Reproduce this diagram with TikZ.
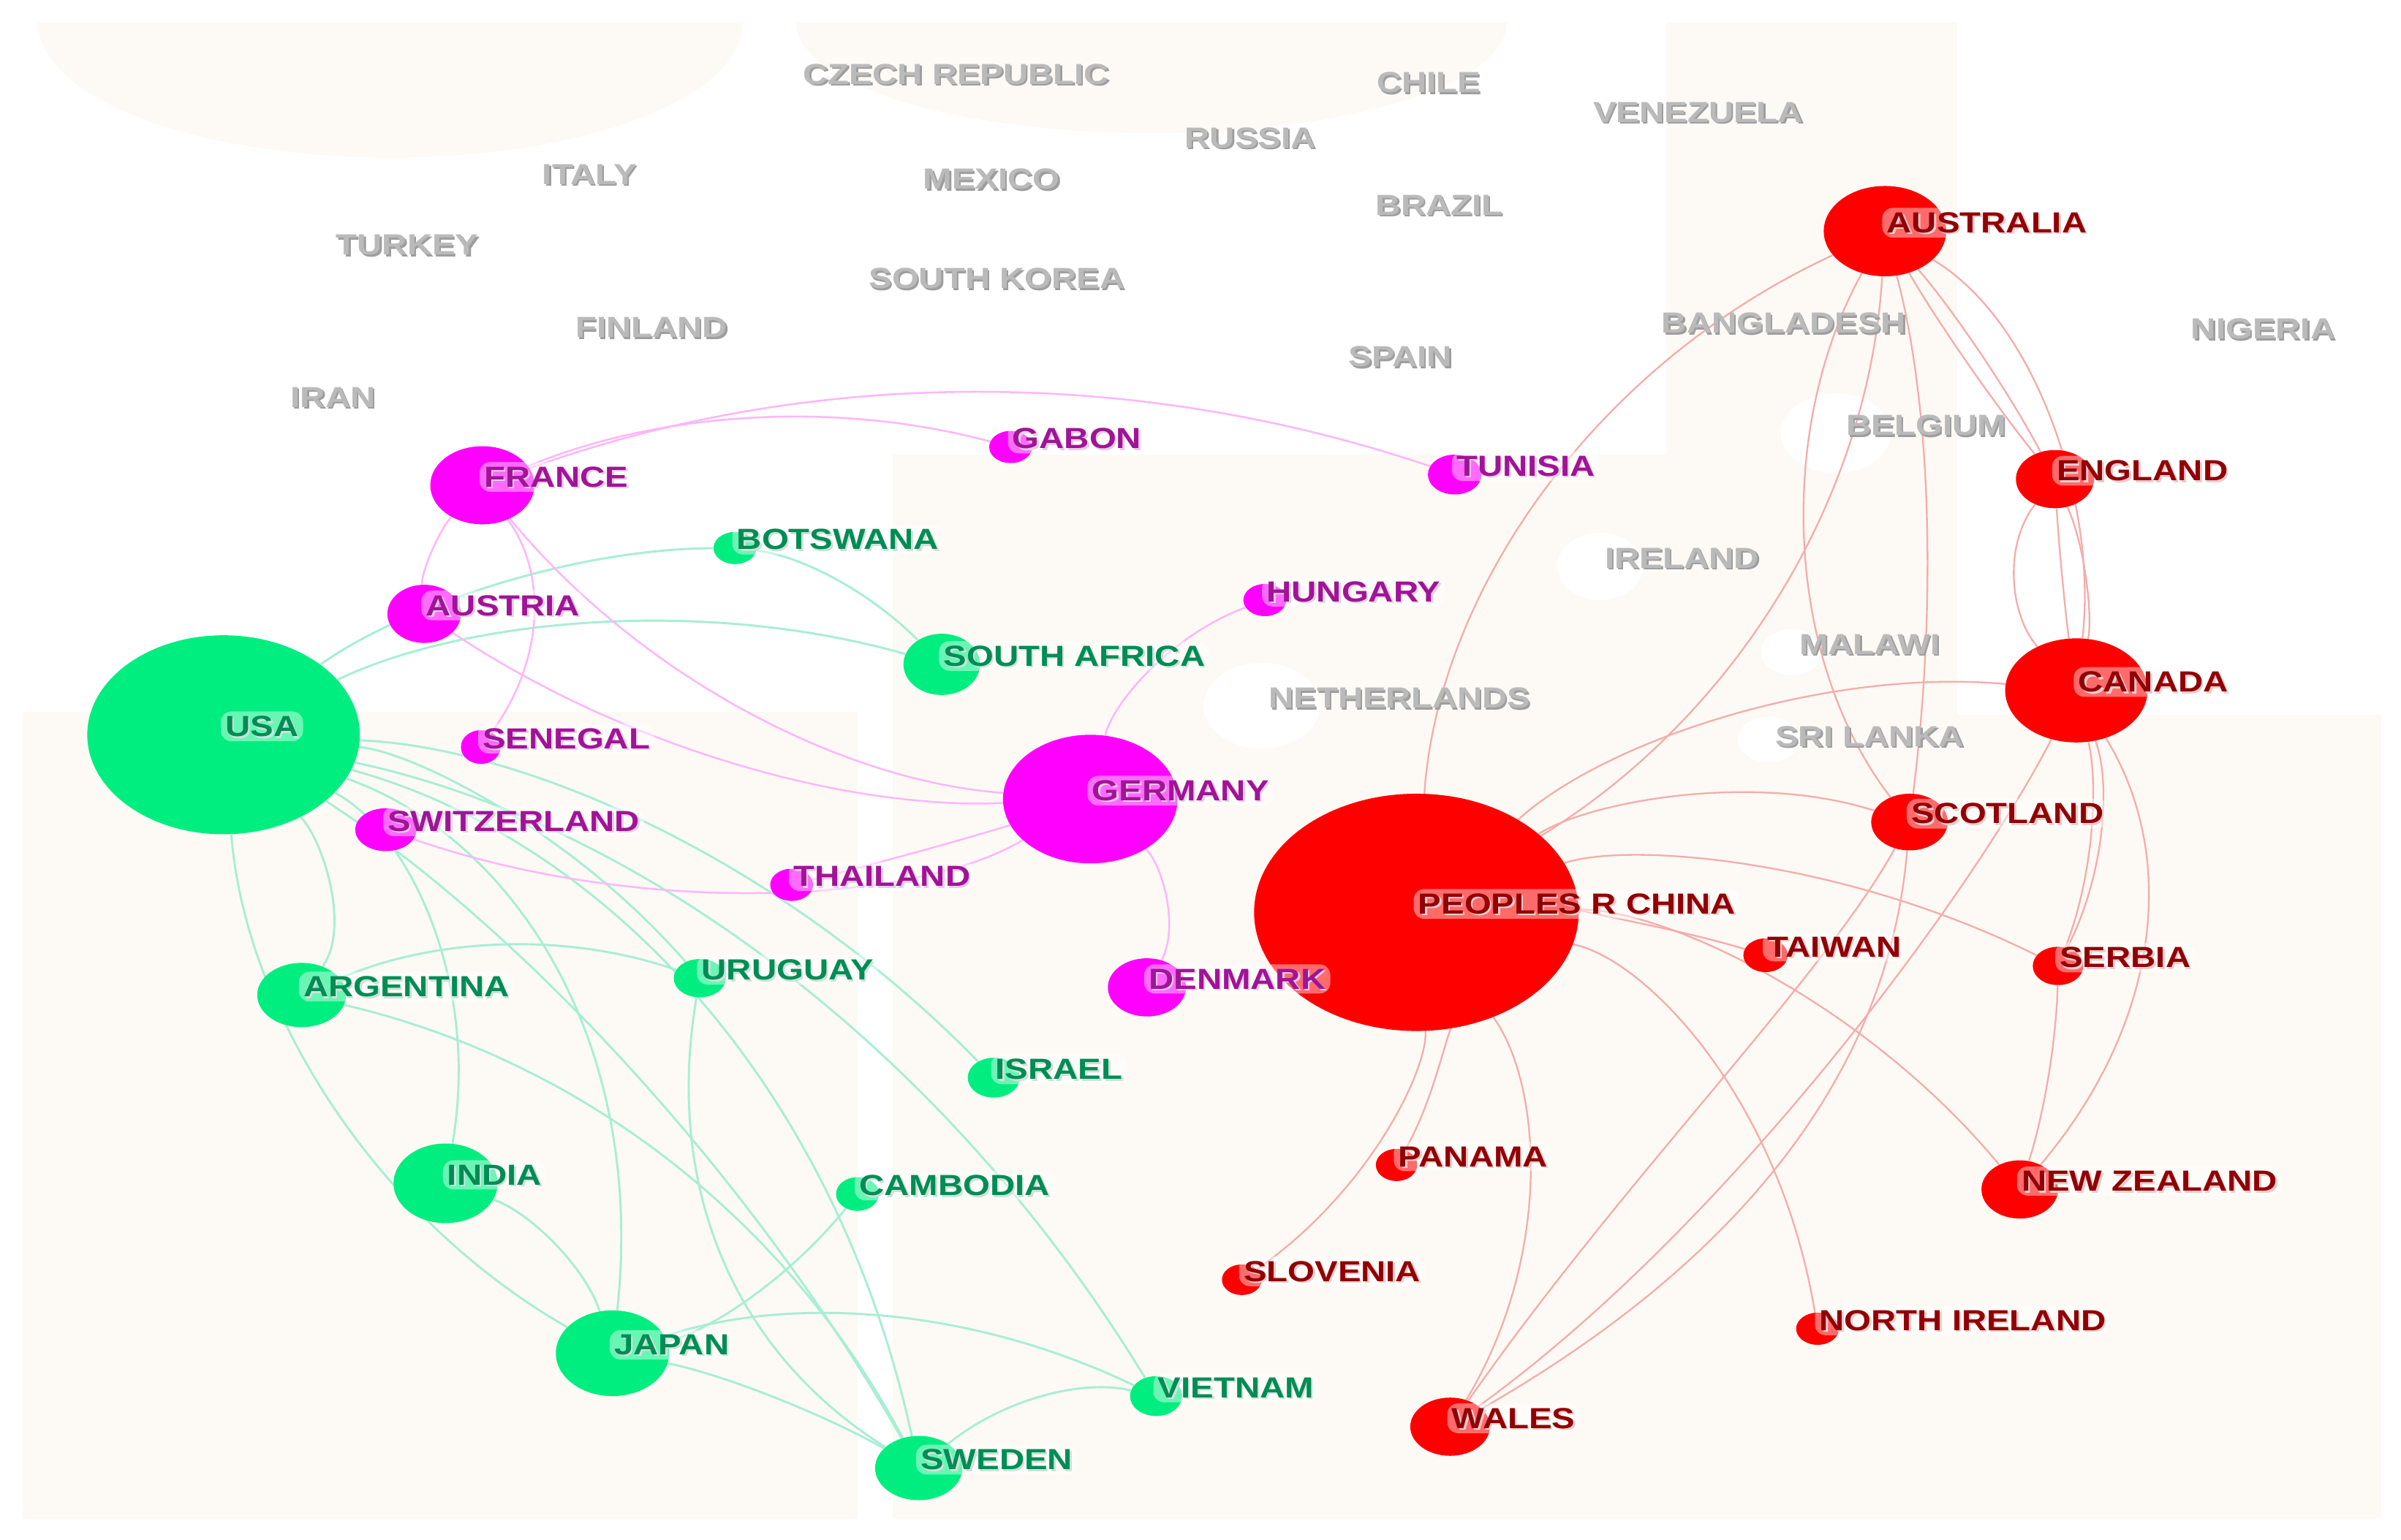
\documentclass[tikz,border=0pt]{standalone}
\usepackage{fontspec}
\newfontfamily\lblfont{Liberation Sans}[FakeStretch=1.19]
\usetikzlibrary{shapes.geometric,calc}
\definecolor{gnode}{RGB}{0,238,128}
\definecolor{mnode}{RGB}{255,0,255}
\definecolor{rnode}{RGB}{255,0,0}
\definecolor{gtxt}{RGB}{0,140,85}
\definecolor{mtxt}{RGB}{160,20,150}
\definecolor{rtxt}{RGB}{145,0,5}
\definecolor{gshd}{RGB}{170,205,190}
\definecolor{mshd}{RGB}{215,170,215}
\definecolor{rshd}{RGB}{220,170,170}
\definecolor{graytxt}{RGB}{186,186,186}
\definecolor{grayshd}{RGB}{158,158,158}
\definecolor{gline}{RGB}{168,238,212}
\definecolor{mline}{RGB}{255,182,250}
\definecolor{rline}{RGB}{245,172,172}
\definecolor{beige}{RGB}{253,250,245}
\pgfdeclarelayer{bg}\pgfdeclarelayer{edges}\pgfdeclarelayer{labels}
\pgfsetlayers{bg,edges,main,labels}
\tikzset{
 country/.style={ellipse, inner sep=0pt, draw=none},
 gn/.style={country, fill=gnode},
 mn/.style={country, fill=mnode},
 rn/.style={country, fill=rnode},
 lbltext/.style={font=\lblfont\bfseries\fontsize{19pt}{19pt}\selectfont, inner sep=0pt},
 gedge/.style={draw=gline, line width=1.4pt},
 medge/.style={draw=mline, line width=1.2pt},
 redge/.style={draw=rline, line width=1.1pt},
}
\newcommand{\qedge}[4]{\draw[#1] (#2) .. controls ($(#2.center)!0.6667!(#4)$) and ($(#3.center)!0.6667!(#4)$) .. (#3);}
\newcommand{\ctylabel}[4]{%
 \node[lbltext, text=#3, anchor=west, xshift=2.2pt, yshift=4.3pt] (#1-sh) at (#1.center) {#4};
 \node[lbltext, text=#2, anchor=west, inner xsep=3pt, inner ysep=3pt, xshift=-2pt, yshift=5.5pt, fill=white, fill opacity=0.42, text opacity=1, rounded corners=7pt] (#1-lb) at (#1.center) {#4};}
\newcommand{\graylbl}[4]{%
 \node[lbltext, text=grayshd] (#1-sh) at (#2+1.1,#3+1.2) {#4};
 \node[lbltext, text=graytxt] (#1) at (#2,#3) {#4};}
\begin{document}
\begin{tikzpicture}[x=1pt,y=-1pt]
\begin{pgfonlayer}{bg}
\fill[white] (0,0) rectangle (1568,1006);
\begin{scope}
\clip (0,15) rectangle (1568,1006);
\fill[beige] (255,15) ellipse [x radius=230, y radius=88];
\fill[beige] (752,15) ellipse [x radius=232, y radius=72];
\end{scope}
\fill[beige] (15,465) rectangle (560,992);
\fill[beige] (583,297) rectangle (1088,992);
\fill[beige] (1088,15) rectangle (1278,992);
\fill[beige] (1278,467) rectangle (1555,992);
\fill[white] (1199,283) ellipse [x radius=36, y radius=26];
\fill[white] (1045,370) ellipse [x radius=28, y radius=22];
\fill[white] (824,461) ellipse [x radius=38, y radius=28];
\fill[white] (1170,426) ellipse [x radius=20, y radius=15];
\fill[white] (1155,483) ellipse [x radius=20, y radius=15];
\end{pgfonlayer}
\path[use as bounding box] (0,0) rectangle (1568,1006);

% green nodes
\node[gn, minimum width=178pt, minimum height=130pt] (usa) at (146,480) {};
\node[gn, minimum width=28pt, minimum height=21pt] (botswana) at (480,358) {};
\node[gn, minimum width=50pt, minimum height=40pt] (safrica) at (615,434) {};
\node[gn, minimum width=58pt, minimum height=42pt] (argentina) at (197,650) {};
\node[gn, minimum width=34pt, minimum height=25pt] (uruguay) at (457,639) {};
\node[gn, minimum width=34pt, minimum height=26pt] (israel) at (649,704) {};
\node[gn, minimum width=68pt, minimum height=52pt] (india) at (291,773) {};
\node[gn, minimum width=28pt, minimum height=22pt] (cambodia) at (560,780) {};
\node[gn, minimum width=74pt, minimum height=56pt] (japan) at (400,884) {};
\node[gn, minimum width=34pt, minimum height=26pt] (vietnam) at (755,912) {};
\node[gn, minimum width=57pt, minimum height=42pt] (sweden) at (600,959) {};
% magenta nodes
\node[mn, minimum width=68pt, minimum height=51pt] (france) at (315,317) {};
\node[mn, minimum width=28pt, minimum height=21pt] (gabon) at (660,292) {};
\node[mn, minimum width=35pt, minimum height=26pt] (tunisia) at (950,310) {};
\node[mn, minimum width=48pt, minimum height=38pt] (austria) at (277,401) {};
\node[mn, minimum width=28pt, minimum height=21pt] (hungary) at (826,392) {};
\node[mn, minimum width=26pt, minimum height=22pt] (senegal) at (314,488) {};
\node[mn, minimum width=114pt, minimum height=84pt] (germany) at (712,522) {};
\node[mn, minimum width=40pt, minimum height=28pt] (switzerland) at (252,542) {};
\node[mn, minimum width=28pt, minimum height=21pt] (thailand) at (517,578) {};
\node[mn, minimum width=51pt, minimum height=38pt] (denmark) at (749,645) {};
% red nodes
\node[rn, minimum width=80pt, minimum height=59pt] (australia) at (1231,151) {};
\node[rn, minimum width=51pt, minimum height=38pt] (england) at (1342,313) {};
\node[rn, minimum width=93pt, minimum height=68pt] (canada) at (1356,451) {};
\node[rn, minimum width=50pt, minimum height=37pt] (scotland) at (1247,537) {};
\node[rn, minimum width=212pt, minimum height=155pt] (china) at (925,596) {};
\node[rn, minimum width=29pt, minimum height=22pt] (taiwan) at (1153,624) {};
\node[rn, minimum width=33pt, minimum height=25pt] (serbia) at (1344,631) {};
\node[rn, minimum width=27pt, minimum height=21pt] (panama) at (912,761) {};
\node[rn, minimum width=50pt, minimum height=38pt] (newzealand) at (1319,777) {};
\node[rn, minimum width=26pt, minimum height=20pt] (slovenia) at (811,836) {};
\node[rn, minimum width=28pt, minimum height=21pt] (northireland) at (1187,868) {};
\node[rn, minimum width=52pt, minimum height=38pt] (wales) at (947,932) {};

\begin{pgfonlayer}{edges}
% green edges
\qedge{gedge}{usa}{botswana}{313,359}
\qedge{gedge}{usa}{safrica}{380,367}
\qedge{gedge}{botswana}{safrica}{548,366}
\qedge{gedge}{usa}{argentina}{244.5,585}
\qedge{gedge}{usa}{japan}{167,750}
\qedge{gedge}{usa}{india}{325.5,573.5}
\qedge{gedge}{usa}{japan}{433,582}
\qedge{gedge}{usa}{uruguay}{333.5,497}
\qedge{gedge}{usa}{vietnam}{543.5,564}
\qedge{gedge}{usa}{israel}{442.5,492}
\qedge{gedge}{argentina}{uruguay}{327,593.5}
\qedge{gedge}{argentina}{sweden}{469.5,713.5}
\qedge{gedge}{india}{japan}{374.5,801.5}
\qedge{gedge}{uruguay}{sweden}{421.5,847}
\qedge{gedge}{cambodia}{japan}{492,864}
\qedge{gedge}{japan}{sweden}{500,902.5}
\qedge{gedge}{japan}{vietnam}{576.5,826}
\qedge{gedge}{sweden}{vietnam}{678.5,894.5}
\qedge{gedge}{usa}{sweden}{431,664.5}
\qedge{gedge}{usa}{sweden}{518,582}
% magenta edges
\qedge{medge}{france}{tunisia}{632,202.5}
\qedge{medge}{france}{gabon}{486.5,245.5}
\qedge{medge}{france}{austria}{274,359}
\qedge{medge}{france}{senegal}{377.5,401.5}
\qedge{medge}{france}{germany}{469.5,504.7}
\qedge{medge}{austria}{germany}{474.7,532.7}
\draw[medge] (switzerland) .. controls (420,600) and (600,590) .. (germany);
\qedge{medge}{thailand}{germany}{613.5,554}
\qedge{medge}{germany}{hungary}{734.4,426.6}
\qedge{medge}{germany}{denmark}{781.5,584.5}
% red edges
\qedge{redge}{australia}{china}{946,282.5}
\draw[redge] (australia) .. controls (1220,330) and (1130,470) .. (china);
\draw[redge] (australia) .. controls (1160,280) and (1165,430) .. (scotland);
\draw[redge] (australia) .. controls (1265,280) and (1262,420) .. (scotland);
\draw[redge] (scotland) .. controls (1235,680) and (1160,810) .. (wales);
\draw[redge] (scotland) .. controls (1190,640) and (1060,770) .. (wales);
\draw[redge] (canada) .. controls (1290,580) and (1130,800) .. (wales);
\qedge{redge}{china}{wales}{1048,764}
\qedge{redge}{china}{panama}{957.5,681.5}
\qedge{redge}{china}{slovenia}{936.6,748.6}
\qedge{redge}{china}{taiwan}{1039,590}
\qedge{redge}{china}{serbia}{1133.5,526.5}
\qedge{redge}{china}{newzealand}{1165.4,591.9}
\qedge{redge}{china}{northireland}{1149.6,641.8}
\qedge{redge}{china}{scotland}{1094,487.5}
\qedge{redge}{china}{canada}{1108.5,428.7}
\qedge{redge}{australia}{england}{1280,236}
\qedge{redge}{australia}{england}{1296,226}
\draw[redge] (australia) .. controls (1330,210) and (1370,330) .. (canada);
\qedge{redge}{england}{canada}{1291,378}
\qedge{redge}{england}{canada}{1346,382}
\qedge{redge}{england}{canada}{1372,380}
\qedge{redge}{canada}{serbia}{1390,541}
\qedge{redge}{canada}{serbia}{1378,545}
\qedge{redge}{canada}{newzealand}{1456.5,614}
\qedge{redge}{serbia}{newzealand}{1342.5,704}
\end{pgfonlayer}

\begin{pgfonlayer}{labels}
\ctylabel{usa}{gtxt}{gshd}{USA}
\ctylabel{botswana}{gtxt}{gshd}{BOTSWANA}
\ctylabel{safrica}{gtxt}{gshd}{SOUTH AFRICA}
\ctylabel{argentina}{gtxt}{gshd}{ARGENTINA}
\ctylabel{uruguay}{gtxt}{gshd}{URUGUAY}
\ctylabel{israel}{gtxt}{gshd}{ISRAEL}
\ctylabel{india}{gtxt}{gshd}{INDIA}
\ctylabel{cambodia}{gtxt}{gshd}{CAMBODIA}
\ctylabel{japan}{gtxt}{gshd}{JAPAN}
\ctylabel{vietnam}{gtxt}{gshd}{VIETNAM}
\ctylabel{sweden}{gtxt}{gshd}{SWEDEN}
\ctylabel{france}{mtxt}{mshd}{FRANCE}
\ctylabel{gabon}{mtxt}{mshd}{GABON}
\ctylabel{tunisia}{mtxt}{mshd}{TUNISIA}
\ctylabel{austria}{mtxt}{mshd}{AUSTRIA}
\ctylabel{hungary}{mtxt}{mshd}{HUNGARY}
\ctylabel{senegal}{mtxt}{mshd}{SENEGAL}
\ctylabel{germany}{mtxt}{mshd}{GERMANY}
\ctylabel{switzerland}{mtxt}{mshd}{SWITZERLAND}
\ctylabel{thailand}{mtxt}{mshd}{THAILAND}
\ctylabel{denmark}{mtxt}{mshd}{DENMARK}
\ctylabel{australia}{rtxt}{rshd}{AUSTRALIA}
\ctylabel{england}{rtxt}{rshd}{ENGLAND}
\ctylabel{canada}{rtxt}{rshd}{CANADA}
\ctylabel{scotland}{rtxt}{rshd}{SCOTLAND}
\ctylabel{china}{rtxt}{rshd}{PEOPLES R CHINA}
\ctylabel{taiwan}{rtxt}{rshd}{TAIWAN}
\ctylabel{serbia}{rtxt}{rshd}{SERBIA}
\ctylabel{panama}{rtxt}{rshd}{PANAMA}
\ctylabel{newzealand}{rtxt}{rshd}{NEW ZEALAND}
\ctylabel{slovenia}{rtxt}{rshd}{SLOVENIA}
\ctylabel{northireland}{rtxt}{rshd}{NORTH IRELAND}
\ctylabel{wales}{rtxt}{rshd}{WALES}
\graylbl{czech}{624.5}{48.5}{CZECH REPUBLIC}
\graylbl{chile}{933}{54}{CHILE}
\graylbl{venezuela}{1109}{73.5}{VENEZUELA}
\graylbl{russia}{816.5}{90}{RUSSIA}
\graylbl{italy}{385}{114}{ITALY}
\graylbl{mexico}{647.5}{117}{MEXICO}
\graylbl{brazil}{940}{134}{BRAZIL}
\graylbl{turkey}{266}{160}{TURKEY}
\graylbl{skorea}{651}{182}{SOUTH KOREA}
\graylbl{bangladesh}{1165}{211}{BANGLADESH}
\graylbl{nigeria}{1478}{215}{NIGERIA}
\graylbl{finland}{425.5}{214}{FINLAND}
\graylbl{spain}{914.5}{233}{SPAIN}
\graylbl{iran}{217.5}{259.5}{IRAN}
\graylbl{belgium}{1258}{278}{BELGIUM}
\graylbl{ireland}{1098.5}{364.5}{IRELAND}
\graylbl{malawi}{1221}{421}{MALAWI}
\graylbl{netherlands}{914}{456}{NETHERLANDS}
\graylbl{srilanka}{1221}{481}{SRI LANKA}
\end{pgfonlayer}
\end{tikzpicture}
\end{document}
